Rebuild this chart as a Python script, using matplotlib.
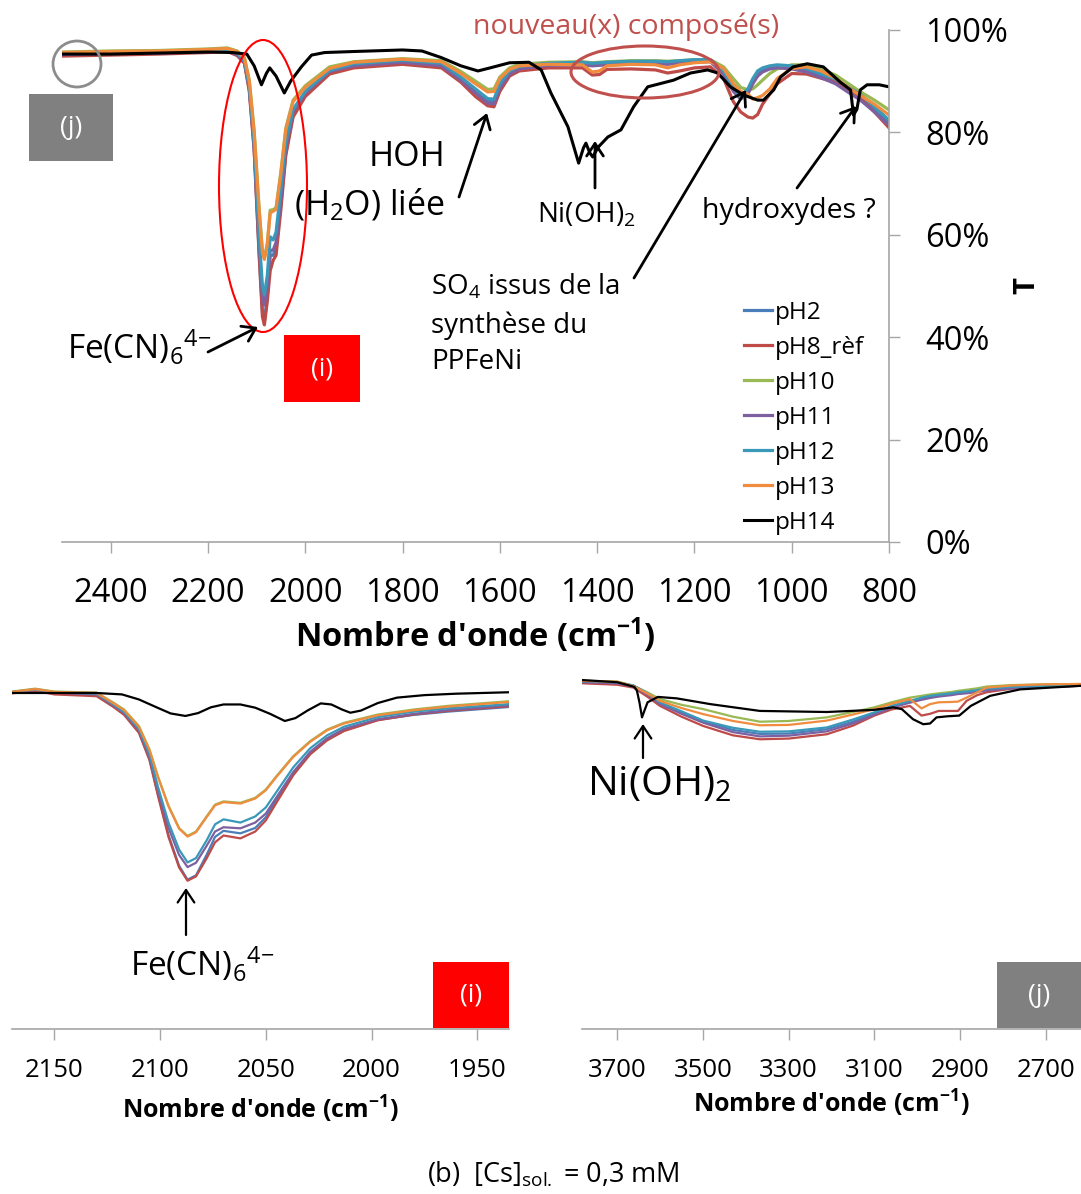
import matplotlib
matplotlib.use("Agg")
import matplotlib.pyplot as plt
from matplotlib.patches import Ellipse, Rectangle, FancyArrowPatch
from matplotlib.ticker import FuncFormatter

plt.rcParams['font.family'] = ['Open Sans', 'DejaVu Sans']
plt.rcParams['mathtext.fontset'] = 'custom'
plt.rcParams['mathtext.rm'] = 'Open Sans'
plt.rcParams['mathtext.it'] = 'Open Sans:italic'
plt.rcParams['mathtext.bf'] = 'Open Sans:bold'

# ---- données : spectre complet (T en %) ----
wn_main = [2500, 2400, 2300, 2200, 2160, 2140, 2125, 2115, 2105, 2095, 2088, 2084, 2078, 2072,
           2066, 2060, 2050, 2040, 2025, 2000, 1950, 1900, 1800, 1720, 1680, 1650, 1625, 1612,
           1600, 1580, 1560, 1500, 1430, 1410, 1395, 1380, 1330, 1280, 1255, 1230, 1200, 1167,
           1140, 1120, 1105, 1090, 1080, 1070, 1060, 1045, 1030, 1000, 970, 940, 910, 880, 860,
           830, 800]

t_ph2 = [95.3, 95.5, 95.6, 95.9, 96.1, 95.3, 93.8, 88.8, 77.0, 57.0, 45.0, 43.0, 48.0, 56.0,
         56.0, 57.5, 66.0, 76.0, 83.5, 87.5, 91.8, 93.1, 93.8, 93.2, 90.4, 88.0, 86.1, 86.0,
         89.0, 91.6, 92.6, 93.3, 93.4, 93.2, 93.3, 93.4, 93.6, 93.6, 93.5, 93.7, 93.9, 94.0,
         91.6, 88.3, 86.9, 88.0, 90.0, 91.5, 92.2, 92.7, 92.9, 92.7, 92.1, 91.0, 89.8, 88.0, 86.8,
         84.3, 81.8]
t_ph8 = [94.9, 95.1, 95.3, 95.6, 95.8, 95.0, 93.5, 88.0, 76.5, 56.5, 44.0, 42.4, 47.0, 53.0,
         55.0, 56.0, 65.0, 75.5, 83.0, 87.0, 91.4, 92.6, 93.3, 92.6, 89.8, 87.0, 85.2, 85.0,
         88.0, 91.0, 92.0, 92.6, 92.6, 91.2, 91.3, 92.3, 92.4, 92.2, 91.6, 92.0, 92.6, 92.8,
         90.5, 86.0, 84.0, 83.0, 82.8, 83.5, 85.5, 87.5, 89.5, 91.5, 91.4, 90.6, 89.8, 88.0, 86.9,
         84.0, 80.9]
t_ph10 = [95.7, 95.9, 96.0, 96.3, 96.5, 95.9, 94.6, 90.2, 80.3, 65.5, 56.8, 55.5, 58.3, 64.8,
          64.9, 65.3, 72.3, 80.8, 86.3, 89.1, 92.8, 93.8, 94.4, 94.0, 91.9, 90.0, 88.4, 88.5,
          90.8, 92.6, 93.3, 93.7, 93.8, 93.6, 93.7, 93.8, 94.0, 94.0, 93.9, 94.0, 94.2, 94.2,
          92.8, 90.5, 88.8, 88.3, 88.5, 89.3, 90.2, 91.5, 92.4, 93.2, 93.2, 92.4, 91.2, 89.3, 88.0,
          86.3, 84.4]
t_ph11 = [95.2, 95.4, 95.5, 95.8, 96.0, 95.2, 93.7, 88.5, 77.5, 58.5, 47.8, 46.3, 50.0, 57.0,
          57.0, 58.5, 67.0, 77.0, 84.0, 87.7, 91.9, 93.0, 93.7, 93.0, 90.2, 87.7, 85.7, 85.6,
          88.7, 91.4, 92.4, 93.1, 93.2, 93.0, 93.1, 93.2, 93.4, 93.4, 93.3, 93.5, 93.7, 93.8,
          91.4, 88.0, 86.5, 87.5, 89.5, 91.0, 91.8, 92.4, 92.6, 92.4, 91.8, 90.7, 89.5, 87.6, 86.4,
          84.0, 81.4]
t_ph12 = [95.4, 95.6, 95.7, 96.0, 96.2, 95.5, 94.0, 89.0, 78.0, 60.0, 50.0, 48.3, 52.0, 59.6,
          59.0, 60.5, 69.0, 78.0, 84.5, 88.0, 92.1, 93.4, 94.1, 93.5, 90.8, 88.5, 86.6, 86.5,
          89.5, 92.0, 92.9, 93.5, 93.7, 93.5, 93.6, 93.7, 93.9, 93.9, 93.8, 94.0, 94.2, 94.2,
          92.0, 88.8, 87.0, 88.5, 90.5, 92.0, 92.6, 93.0, 93.2, 93.0, 92.5, 91.5, 90.4, 88.6, 87.5,
          85.0, 82.4]
t_ph13 = [95.6, 95.8, 95.9, 96.2, 96.4, 95.8, 94.5, 90.0, 80.0, 65.0, 56.5, 55.2, 58.0, 64.3,
          64.6, 65.0, 72.0, 80.5, 86.0, 88.8, 92.5, 93.7, 94.3, 93.8, 91.5, 89.5, 87.9, 88.0,
          90.5, 92.3, 93.0, 93.3, 93.2, 91.8, 92.0, 93.0, 93.3, 93.2, 92.6, 93.2, 93.6, 93.8,
          92.5, 89.5, 88.0, 87.5, 86.5, 86.8, 87.2, 88.5, 90.5, 92.5, 92.8, 92.0, 90.6, 88.5, 87.3,
          85.5, 83.4]

wn_ph14 = [2500, 2400, 2300, 2200, 2150, 2120, 2105, 2090, 2080, 2073, 2060, 2043, 2030, 2008,
           1987, 1960, 1900, 1800, 1760, 1720, 1680, 1645, 1620, 1580, 1540, 1515, 1495, 1460,
           1438, 1428, 1423, 1415, 1409, 1398, 1378, 1351, 1325, 1296, 1243, 1208, 1173, 1152,
           1126, 1099, 1070, 1058, 1037, 1023, 997, 968, 935, 900, 879, 873, 866, 859, 845, 820, 800]
t_ph14 = [95.3, 95.3, 95.5, 95.7, 95.6, 95.3, 93.0, 89.3, 91.5, 92.6, 91.0, 87.7, 90.0, 92.8,
          95.1, 95.6, 95.8, 96.1, 95.9, 94.6, 93.0, 92.0, 92.6, 93.6, 93.7, 92.2, 87.7, 81.1,
          74.0, 77.0, 77.9, 76.0, 75.2, 77.1, 79.1, 80.5, 85.0, 88.9, 90.2, 91.6, 92.2, 91.6,
          88.9, 87.3, 86.3, 86.3, 88.3, 90.8, 92.8, 93.4, 92.8, 89.8, 88.3, 83.4, 84.5, 88.3, 89.3,
          89.3, 88.9]

# ---- données : zoom (i), bande Fe(CN)6 ----
wn_i = [2170, 2159, 2150, 2130, 2122, 2117, 2110, 2105, 2101, 2096, 2091, 2087, 2083, 2078,
        2074, 2070, 2062, 2055, 2050, 2045, 2037, 2029, 2021, 2013, 1997, 1980, 1964, 1935]
i_ph2 = [93.8, 94.4, 93.6, 93.0, 89.8, 87.7, 82.8, 75.2, 65.5, 54.0, 45.5, 41.6, 42.8, 48.5,
         53.5, 55.2, 54.5, 56.0, 59.0, 63.8, 71.0, 76.8, 80.6, 83.2, 86.1, 87.5, 88.4, 89.7]
i_ph8 = [93.5, 94.2, 93.2, 92.7, 89.7, 87.5, 82.5, 74.9, 65.0, 53.5, 45.0, 41.3, 42.5, 47.5,
         52.0, 53.9, 53.1, 55.0, 58.1, 63.0, 70.7, 76.5, 80.4, 83.0, 86.0, 87.6, 88.6, 89.9]
i_ph10 = [94.0, 94.8, 94.0, 93.7, 90.9, 89.0, 84.4, 77.9, 70.4, 62.2, 56.0, 53.8, 55.0, 59.2,
          62.5, 63.4, 63.0, 64.4, 66.7, 70.4, 76.0, 80.2, 83.4, 85.3, 87.6, 89.0, 90.0, 91.3]
i_ph11 = [93.7, 94.5, 93.7, 93.2, 90.1, 88.0, 83.2, 75.8, 66.5, 56.0, 48.5, 45.1, 46.3, 51.0,
          55.0, 56.2, 55.9, 57.5, 60.0, 64.5, 71.6, 77.2, 81.0, 83.6, 86.3, 87.8, 88.8, 90.2]
i_ph12 = [93.9, 94.6, 93.8, 93.4, 90.4, 88.3, 83.6, 76.5, 67.5, 57.5, 50.0, 46.4, 47.6, 52.5,
          57.0, 58.4, 57.5, 59.2, 61.7, 66.0, 72.9, 78.2, 81.8, 84.2, 86.9, 88.4, 89.3, 90.5]
i_ph13 = [93.9, 94.7, 93.9, 93.6, 90.7, 88.8, 84.2, 77.7, 70.2, 62.0, 55.8, 53.6, 54.8, 59.0,
          62.3, 63.2, 62.8, 64.2, 66.5, 70.2, 75.8, 80.0, 83.2, 85.1, 87.4, 88.8, 89.8, 91.1]
wn_i14 = [2170, 2130, 2118, 2110, 2102, 2095, 2088, 2082, 2076, 2070, 2062, 2055, 2048, 2041,
          2036, 2030, 2024, 2019, 2014, 2010, 2005, 1997, 1988, 1975, 1960, 1935]
i_ph14 = [93.6, 93.6, 93.2, 91.8, 89.7, 87.9, 87.2, 88.0, 89.6, 90.4, 90.4, 89.5, 87.8, 85.8,
          86.6, 88.8, 90.7, 90.4, 89.0, 88.1, 88.7, 90.8, 92.3, 93.0, 93.4, 93.8]

# ---- données : zoom (j), région 3800-2600 ----
wn_j = [3782, 3700, 3662, 3630, 3600, 3550, 3499, 3430, 3367, 3300, 3211, 3150, 3100, 3060,
        3017, 2990, 2970, 2950, 2920, 2905, 2885, 2860, 2838, 2780, 2701, 2618]
j_ph2 = [96.8, 96.5, 95.6, 93.5, 90.8, 88.2, 85.7, 83.3, 82.2, 82.3, 83.5, 85.6, 88.0, 89.9,
         91.2, 92.0, 92.5, 92.9, 93.3, 93.5, 93.7, 94.1, 94.5, 95.0, 95.4, 95.7]
j_ph8 = [96.3, 95.9, 95.1, 92.6, 90.0, 87.0, 84.4, 81.8, 80.7, 80.9, 82.1, 84.5, 87.3, 89.0,
         90.0, 87.3, 87.8, 88.6, 88.6, 88.6, 91.4, 93.0, 93.8, 94.8, 95.3, 95.6]
j_ph10 = [97.0, 96.8, 95.6, 93.8, 91.9, 90.3, 89.1, 87.0, 85.6, 85.8, 86.8, 88.3, 89.6, 91.0,
          92.3, 92.8, 93.2, 93.5, 93.9, 94.2, 94.5, 94.9, 95.4, 95.8, 96.0, 96.1]
j_ph11 = [96.6, 96.3, 95.4, 93.2, 90.5, 87.8, 85.3, 82.7, 81.5, 81.7, 82.9, 85.1, 87.6, 89.5,
          90.9, 91.7, 92.2, 92.6, 93.0, 93.3, 93.5, 93.9, 94.3, 94.9, 95.3, 95.6]
j_ph12 = [96.9, 96.6, 95.7, 93.6, 91.0, 88.5, 85.9, 83.9, 82.8, 82.9, 84.0, 86.2, 88.2, 90.0,
          91.4, 92.3, 92.8, 93.1, 93.5, 93.8, 94.0, 94.4, 94.8, 95.3, 95.6, 95.8]
j_ph13 = [97.0, 96.7, 95.5, 93.5, 91.4, 89.4, 87.7, 85.8, 84.6, 84.7, 85.9, 87.6, 89.1, 90.6,
          91.9, 89.3, 90.5, 91.0, 91.1, 91.2, 92.3, 93.8, 95.1, 95.7, 96.0, 96.1]
wn_j14 = [3782, 3700, 3660, 3654, 3648, 3642, 3636, 3629, 3605, 3561, 3483, 3367, 3211, 3100,
          3056, 3036, 3010, 2986, 2970, 2955, 2930, 2902, 2875, 2830, 2760, 2618]
j_ph14 = [97.2, 96.6, 95.3, 94.3, 91.0, 86.8, 88.8, 91.0, 92.5, 92.1, 90.5, 88.6, 88.3, 88.9,
          89.6, 89.1, 86.3, 84.9, 85.1, 86.8, 87.1, 87.3, 90.0, 92.8, 94.6, 95.6]

labels = ['pH2', 'pH8_rèf', 'pH10', 'pH11', 'pH12', 'pH13', 'pH14']
colors = ['#4A7EBB', '#BE4B48', '#98B954', '#7D60A0', '#3A98B8', '#F08C3E', '#000000']

W, H = 1081, 1194
fig = plt.figure(figsize=(W / 100, H / 100), dpi=100)


def fx(px):
    return px / W


def fy(py):
    return 1 - py / H


grey = '#A6A6A6'

# ---------------- graphique principal ----------------
ax = fig.add_axes([fx(62), fy(542), fx(889) - fx(62), fy(30) - fy(542)])
main_sets = [t_ph2, t_ph8, t_ph10, t_ph11, t_ph12, t_ph13]
for vals, lab, c in zip(main_sets, labels[:6], colors[:6]):
    ax.plot(wn_main, vals, color=c, lw=2.3, label=lab, solid_joinstyle='round')
ax.plot(wn_ph14, t_ph14, color='k', lw=2.2, label=labels[6], solid_joinstyle='round')
ax.set_xlim(2500, 800)
ax.set_ylim(0, 100)
ax.set_xticks([2400, 2200, 2000, 1800, 1600, 1400, 1200, 1000, 800])
ax.set_yticks([0, 20, 40, 60, 80, 100])
ax.yaxis.set_major_formatter(FuncFormatter(lambda v, p: f'{v:.0f}%'))
ax.yaxis.tick_right()
ax.yaxis.set_label_position('right')
for s in ['left', 'top']:
    ax.spines[s].set_visible(False)
for s in ['right', 'bottom']:
    ax.spines[s].set_color(grey)
    ax.spines[s].set_linewidth(1.2)
ax.tick_params(axis='x', length=8, width=1, color=grey, labelsize=23.5, pad=17)
ax.tick_params(axis='y', length=8, width=1, color=grey, labelsize=23.5, pad=18)
for t in ax.get_yticklabels():
    t.set_horizontalalignment('left')
ax.set_xlabel("Nombre d'onde (cm$^{\\mathbf{-1}}$)", fontsize=23.5, fontweight='bold', labelpad=4)
ax.set_ylabel('T', fontsize=21, fontweight='bold', rotation=90, labelpad=2)
ax.yaxis.set_label_coords((fx(1012) - fx(62)) / (fx(889) - fx(62)), 0.5)

leg = ax.legend(loc='upper left', bbox_to_anchor=(fx(744), fy(301)), bbox_transform=fig.transFigure,
                frameon=False, fontsize=17.5, handlelength=1.15, handletextpad=0.1,
                labelspacing=0.45, borderpad=0, borderaxespad=0)

# ---------------- zoom (i) ----------------
axi = fig.add_axes([fx(12), fy(1029), fx(509) - fx(12), fy(670) - fy(1029)])
for vals, lab, c in zip([i_ph2, i_ph8, i_ph10, i_ph11, i_ph12, i_ph13], labels[:6], colors[:6]):
    axi.plot(wn_i, vals, color=c, lw=1.6, solid_joinstyle='round')
axi.plot(wn_i14, i_ph14, color='k', lw=1.6, solid_joinstyle='round')
axi.set_xlim(2170, 1935)
axi.set_ylim(0, 100)
axi.set_xticks([2150, 2100, 2050, 2000, 1950])

# ---------------- zoom (j) ----------------
axj = fig.add_axes([fx(582), fy(1029), fx(1081) - fx(582), fy(670) - fy(1029)])
for vals, lab, c in zip([j_ph2, j_ph8, j_ph10, j_ph11, j_ph12, j_ph13], labels[:6], colors[:6]):
    axj.plot(wn_j, vals, color=c, lw=1.6, solid_joinstyle='round')
axj.plot(wn_j14, j_ph14, color='k', lw=1.6, solid_joinstyle='round')
axj.set_xlim(3782, 2618)
axj.set_ylim(0, 100)
axj.set_xticks([3700, 3500, 3300, 3100, 2900, 2700])

for a in (axi, axj):
    for s in ['left', 'top', 'right']:
        a.spines[s].set_visible(False)
    a.spines['bottom'].set_color(grey)
    a.spines['bottom'].set_linewidth(1.2)
    a.set_yticks([])
    a.tick_params(axis='x', length=8, width=1, color=grey, labelsize=18.5, pad=13)
    a.patch.set_alpha(0)
axi.set_xlabel("Nombre d'onde (cm$^{\\mathbf{-1}}$)", fontsize=18, fontweight='bold', labelpad=8)
axj.set_xlabel("Nombre d'onde (cm$^{\\mathbf{-1}}$)", fontsize=18, fontweight='bold', labelpad=3)

# ---------------- annotations ----------------
def arrow(x0, y0, x1, y1, lw=2.0):
    fig.add_artist(FancyArrowPatch((fx(x0), fy(y0)), (fx(x1), fy(y1)), transform=fig.transFigure,
                                   arrowstyle='->,head_length=0.45,head_width=0.3', mutation_scale=20,
                                   lw=lw, color='k', shrinkA=0, shrinkB=0))


def box(x0, y0, x1, y1, fc, txt, size=19):
    fig.add_artist(Rectangle((fx(x0), fy(y1)), fx(x1) - fx(x0), fy(y0) - fy(y1),
                             transform=fig.transFigure, fc=fc, ec='none'))
    fig.text(fx((x0 + x1) / 2), fy((y0 + y1) / 2), txt, color='white', fontsize=size,
             ha='center', va='center')


def ellipse(cx, cy, w, h, color, lw):
    fig.add_artist(Ellipse((fx(cx), fy(cy)), w / W, h / H, transform=fig.transFigure,
                           fill=False, ec=color, lw=lw))


ellipse(263, 186, 88, 292, '#FF0000', 1.5)
ellipse(645, 72, 148, 52, '#C0504D', 2.2)
ellipse(77, 64, 48, 46, '#8C8C8C', 2)
box(29, 94, 113, 161, '#808080', '(j)')
box(284, 335, 360, 402, '#FF0000', '(i)')

fecn = 'Fe(CN)$_{6}{}^{4\\mathregular{-}}$'
fig.text(fx(626), fy(27), 'nouveau(x) composé(s)', color='#C0504D', fontsize=20.5, ha='center', va='center')
fig.text(fx(445), fy(157), 'HOH', fontsize=24.5, ha='right', va='center')
fig.text(fx(445), fy(205), '(H$_2$O) liée', fontsize=24.5, ha='right', va='center')
arrow(459, 197, 487, 113)
fig.text(fx(67), fy(348), fecn, fontsize=24, ha='left', va='center')
arrow(208, 352, 258, 327)
fig.text(fx(537), fy(215), 'Ni(OH)$_2$', fontsize=20, ha='left', va='center')
arrow(595, 188, 595, 141)
fig.text(fx(702), fy(211), 'hydroxydes ?', fontsize=20.5, ha='left', va='center')
arrow(797, 188, 856, 106)
fig.text(fx(431), fy(287), 'SO$_4$ issus de la', fontsize=20, ha='left', va='center')
fig.text(fx(431), fy(326), 'synthèse du', fontsize=20, ha='left', va='center')
fig.text(fx(431), fy(362), 'PPFeNi', fontsize=20, ha='left', va='center')
arrow(634, 278, 746, 90)

fig.text(fx(130), fy(965), fecn, fontsize=24, ha='left', va='center')
arrow(186, 935, 186, 888, lw=1.6)
box(433, 962, 509, 1028, '#FF0000', '(i)')

fig.text(fx(587), fy(785), 'Ni(OH)$_2$', fontsize=29.5, ha='left', va='center')
arrow(643, 758, 643, 724, lw=1.6)
box(997, 962, 1081, 1028, '#808080', '(j)')

fig.text(fx(553), fy(1175), '(b)  [Cs]$_{\\mathregular{sol.}}$ = 0,3 mM', fontsize=19.5, ha='center', va='center')

fig.savefig('out.png', dpi=100)
